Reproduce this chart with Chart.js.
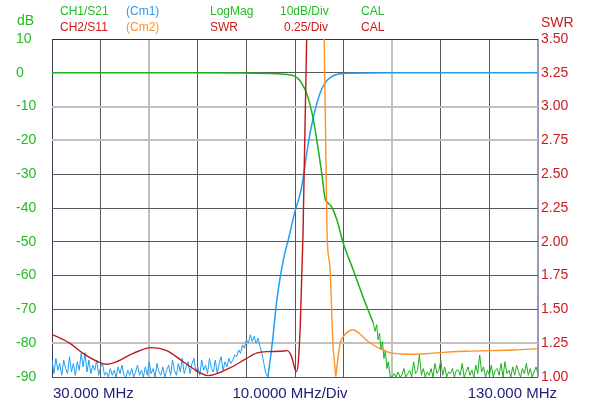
<!DOCTYPE html>
<html>
<head>
<meta charset="utf-8">
<script src="https://cdn.jsdelivr.net/npm/chart.js@4.4.1/dist/chart.umd.min.js"></script>
<style>
  body { margin: 0; background: #fff; }
  #wrap { position: relative; width: 600px; height: 405px; font-family: Arial, "Liberation Sans", sans-serif; }
  #wrap canvas { position: absolute; left: 0; top: 0; }
  .t { position: absolute; white-space: nowrap; line-height: 1; }
  .hd { font-size: 12px; }
  .g { color: #22bb22; }
  .b { color: #2a9cf5; }
  .r { color: #cc1a1a; }
  .o { color: #ff9226; }
  .n { color: #20207a; font-size: 15px; }
</style>
</head>
<body>
<div id="wrap">
  <canvas id="chart" width="600" height="405"></canvas>

  <span class="t hd g" style="left:60px;top:5px">CH1/S21</span>
  <span class="t hd b" style="left:126px;top:5px">(Cm1)</span>
  <span class="t hd g" style="left:210px;top:5px">LogMag</span>
  <span class="t hd g" style="left:280px;top:5px">10dB/Div</span>
  <span class="t hd g" style="left:361px;top:5px">CAL</span>

  <span class="t hd r" style="left:60px;top:21px">CH2/S11</span>
  <span class="t hd o" style="left:126px;top:21px">(Cm2)</span>
  <span class="t hd r" style="left:210px;top:21px">SWR</span>
  <span class="t hd r" style="left:284px;top:21px">0.25/Div</span>
  <span class="t hd r" style="left:361px;top:21px">CAL</span>

  <span class="t g" style="left:17px;top:13px;font-size:14px">dB</span>
  <span class="t r" style="left:541px;top:15px;font-size:14px">SWR</span>

  <span class="t n" style="left:53px;top:385px">30.000 MHz</span>
  <span class="t n" style="left:290px;top:385px;transform:translateX(-50%)">10.0000 MHz/Div</span>
  <span class="t n" style="right:43px;top:385px">130.000 MHz</span>
</div>
<script>
const GREEN = "#1cb01c";
const BLUE = "#1e9ef5";
const RED = "#c01818";
const ORANGE = "#ff9226";

const sweepStep = 0.4;

// CH1 S21, dB
const s21Freq = [30, 60, 75, 78.5, 79.8, 80.7, 81.4, 82.4, 83.1, 83.8, 84.8, 85.5, 86.2, 86.8, 87.5, 88.6, 89.9, 92.0, 94.0, 96.1];
const s21Db = [0, 0, -0.2, -0.5, -0.9, -1.8, -3.1, -6.1, -9.5, -14, -22.8, -29.7, -37.2, -38.5, -39.6, -43.4, -50.3, -58.4, -66.3, -74];
const s21TailFreq = [96.1, 96.5, 96.8, 97.1, 97.4, 97.7, 98.0, 98.3, 98.6, 98.9, 99.2, 99.6];
const s21TailDb = [-74, -76.5, -74.5, -79, -77, -82, -79.5, -84.5, -82, -87.5, -85.5, -90];
// stopband noise floor, from 100 MHz
const s21FloorStart = 100;
const s21FloorDb = [
  -90, -89, -90, -88.5, -90, -89.5, -87.5, -90, -89, -88,
  -90, -85.5, -89, -88, -83.5, -89.5, -87.5, -90, -88.5, -89.5,
  -87.5, -90, -86, -89, -88, -85, -89.5, -87, -90, -88.5,
  -89, -87.5, -90, -88, -88, -89.5, -86, -90, -88.5, -87,
  -89.5, -88, -90, -86.5, -89, -83.5, -88.5, -87, -90, -88,
  -89.5, -86.5, -90, -88, -87.5, -89.5, -86, -90, -85.5, -89,
  -88, -90, -87, -89.5, -86.5, -88.5, -90, -87.5, -89, -86,
  -89.5, -87.5, -90, -88.5, -87, -89
];

// Cm1 memory trace, dB: noise floor from 30 MHz, then the rise
const cm1FloorStart = 30;
const cm1FloorDb = [
  -85, -89, -84.5, -88, -86, -89.5, -85, -87.5, -89, -84,
  -88.5, -86, -89.5, -85.5, -88, -83, -87, -82.8, -88.5, -85,
  -89, -86.5, -88, -85, -89.5, -87, -86, -89.5, -88.5, -90,
  -87.5, -89.5, -88, -90, -87, -89, -86.5, -89.5, -90, -88,
  -89.5, -87.5, -90, -88.5, -86.5, -89.5, -88, -90, -87, -89.5,
  -85.5, -89, -87.5, -90, -86, -88.5, -89.5, -87, -90, -88,
  -86.5, -89.5, -85, -88, -89.5, -86, -88.5, -84.5, -89, -87,
  -85.5, -89, -86, -84.5, -88.5, -87, -89.5, -85, -88, -86.5,
  -89, -84.5, -87.5, -88.5, -85, -89, -86, -84, -88, -85.5,
  -87, -84.5, -86,
  -85, -83.5, -84, -82, -83, -80.5, -81.5, -79, -80, -77.5,
  -79.5, -78, -80, -78.5, -81, -83, -86, -89, -90
];
const cm1Freq = [74.4, 74.8, 75.4, 76.2, 76.9, 77.8, 78.6, 80.0, 81.2, 81.9, 82.5, 83.5, 84.7, 85.6, 86.6, 87.6, 88.6, 91, 100, 130];
const cm1Db = [-90, -86, -79, -68, -61, -54, -49.5, -41, -35, -29, -23, -15, -8, -4.5, -2.2, -1.1, -0.5, -0.15, 0, 0];

// CH2 S11, SWR
const s11Freq = [30, 33.7, 36.4, 39.9, 41.3, 43.3, 46.7, 50.5, 53.6, 57.0, 60.5, 62.1, 66.6, 69.7, 72.2, 74.5, 77.0, 78.4, 79.3, 79.9, 80.3, 80.7, 81.1, 81.65, 82.4, 83.2, 130];
const s11Swr = [1.316, 1.249, 1.175, 1.106, 1.094, 1.113, 1.175, 1.217, 1.195, 1.113, 1.03, 1.01, 1.067, 1.13, 1.178, 1.188, 1.19, 1.195, 1.15, 1.07, 1.04, 1.12, 1.4, 2.06, 3.5, 6, 6];

// Cm2 memory trace, SWR
const cm2Freq = [30, 85.5, 86.0, 86.6, 87.2, 87.8, 88.2, 88.4, 88.7, 89.3, 90.0, 90.7, 91.9, 93.3, 94.8, 96.2, 97.5, 99.5, 102, 104.3, 107, 109.8, 115, 120.1, 125, 130];
const cm2Swr = [6, 6, 3.5, 2.05, 1.81, 1.25, 1.08, 1.005, 1.1, 1.25, 1.3, 1.33, 1.35, 1.32, 1.27, 1.235, 1.21, 1.18, 1.17, 1.168, 1.172, 1.18, 1.19, 1.195, 1.2, 1.21];

function pairs(xs, ys) {
  return xs.map((x, i) => ({ x: x, y: ys[i] }));
}
function sweep(start, ys) {
  return ys.map((y, i) => ({ x: +(start + i * sweepStep).toFixed(1), y: y }));
}

const tickFont = { family: 'Arial, "Liberation Sans", sans-serif', size: 14 };

new Chart(document.getElementById("chart"), {
  type: "line",
  data: {
    datasets: [
      { data: pairs(s11Freq, s11Swr), yAxisID: "y2", borderColor: RED, borderWidth: 1.4, cubicInterpolationMode: "monotone" },
      { data: pairs(cm2Freq, cm2Swr), yAxisID: "y2", borderColor: ORANGE, borderWidth: 1.4, cubicInterpolationMode: "monotone" },
      { data: pairs(s21Freq, s21Db), yAxisID: "y", borderColor: GREEN, borderWidth: 1.5, cubicInterpolationMode: "monotone" },
      { data: pairs(s21TailFreq, s21TailDb).concat(sweep(s21FloorStart, s21FloorDb)), yAxisID: "y", borderColor: GREEN, borderWidth: 1, tension: 0 },
      { data: pairs(cm1Freq, cm1Db), yAxisID: "y", borderColor: BLUE, borderWidth: 1.5, cubicInterpolationMode: "monotone" },
      { data: sweep(cm1FloorStart, cm1FloorDb), yAxisID: "y", borderColor: BLUE, borderWidth: 1, tension: 0 }
    ]
  },
  options: {
    responsive: false,
    animation: false,
    events: [],
    layout: { padding: { left: 16, top: 39, right: 0, bottom: 28 } },
    elements: { point: { radius: 0 } },
    plugins: { legend: { display: false }, tooltip: { enabled: false } },
    scales: {
      x: {
        type: "linear", min: 30, max: 130,
        ticks: { stepSize: 10, display: false },
        border: { display: false },
        grid: {
          drawTicks: false,
          color: ctx => {
            const v = ctx.tick.value;
            if (v === 30) return "#3a3a50";
            if (v === 130) return "#9a9ab8";
            if (v === 50 || v === 100) return "#c0c0c0";
            return "#585858";
          },
          lineWidth: ctx => {
            const v = ctx.tick.value;
            if (v === 50 || v === 100 || v === 130) return 2;
            return 1;
          }
        },
        afterFit: s => { s.height = 0; }
      },
      y: {
        position: "left", min: -90, max: 10,
        ticks: { stepSize: 10, color: "#22bb22", font: tickFont, crossAlign: "far", padding: 0 },
        border: { display: false },
        grid: {
          drawTicks: false,
          color: ctx => {
            const v = ctx.tick.value;
            if (v === 10) return "#30304a";
            if (v === -10 || v === -20 || v === -80) return "#c0c0c0";
            return "#585858";
          },
          lineWidth: ctx => {
            const v = ctx.tick.value;
            if (v === -10 || v === -20 || v === -80) return 2;
            return 1;
          }
        },
        afterFit: s => { s.width = 36; }
      },
      y2: {
        position: "right", min: 1, max: 3.5,
        ticks: { stepSize: 0.25, color: "#cc1a1a", font: tickFont, padding: 3, callback: v => v.toFixed(2) },
        border: { display: false },
        grid: { display: false, drawTicks: false },
        afterFit: s => { s.width = 62; }
      }
    }
  }
});
</script>
</body>
</html>
